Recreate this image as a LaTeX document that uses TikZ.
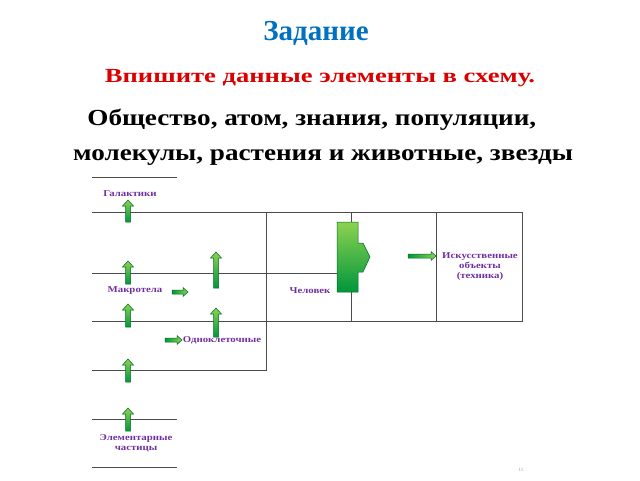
\documentclass[tikz,border=0pt]{standalone}
\usepackage{fontspec}
\setmainfont{Liberation Serif}
\definecolor{titleblue}{RGB}{0,112,192}
\definecolor{labviolet}{RGB}{112,48,160}
\definecolor{arrdark}{RGB}{0,150,60}
\definecolor{arrlight}{RGB}{140,210,80}
\tikzset{
  line/.style={draw=black!70,line width=0.9pt},
  lab/.style={font=\bfseries\fontsize{9}{10}\selectfont,text=labviolet,align=center,inner sep=1pt,xscale=1.2},
  garr/.style={draw=arrdark!70!black,line width=0.5pt,top color=arrlight,bottom color=arrdark},
  harr/.style={draw=arrdark!70!black,line width=0.5pt,left color=arrdark,right color=arrlight}
}
% up arrow: x, y bottom, y top
\newcommand\uparr[3]{\path[garr] (#1-2.5,#2) -- (#1-2.5,#3+6) -- (#1-5.5,#3+6) -- (#1,#3)
  -- (#1+5.5,#3+6) -- (#1+2.5,#3+6) -- (#1+2.5,#2) -- cycle;}
% right arrow: x left, x right, y
\newcommand\rtarr[3]{\path[harr]
  (#1,#3-2) -- (#2-5,#3-2) -- (#2-5,#3-4.5) -- (#2,#3) -- (#2-5,#3+4.5) -- (#2-5,#3+2) -- (#1,#3+2) -- cycle;}
\begin{document}
\begin{tikzpicture}[x=1pt,y=-1pt]
    \useasboundingbox (0,0) rectangle (640,480);
    % Heading
    \node[font=\bfseries\fontsize{29}{30}\selectfont,text=titleblue] (title) at (316,33) {Задание};
    \node[font=\bfseries\fontsize{20}{22}\selectfont,text=red!85!black,xscale=1.33] (task) at (320,78) {Впишите данные элементы в схему.};
    \node[align=left,font=\bfseries\fontsize{23}{35}\selectfont,xscale=1.18,anchor=west,inner sep=0pt] (words) at (73,137) {%
      \hspace*{12pt}Общество, атом, знания, популяции,\\
      молекулы, растения и животные, звезды};
    % Frame lines
    \draw[line] (92,177) -- (177,177);
    \draw[line] (92,212) -- (522,212) -- (522,321) -- (92,321);
    \draw[line] (92,273) -- (337,273);
    \draw[line] (92,370) -- (266,370) -- (266,212);
    \draw[line] (92,419) -- (177,419);
    \draw[line] (92,467) -- (177,467);
    \draw[line] (351,212) -- (351,223);
    \draw[line] (351,292) -- (351,321);
    \draw[line] (436,212) -- (436,321);
    % Labels
    \node[lab] (galax) at (130,194) {Галактики};
    \node[lab] (macro) at (135,291) {Макротела};
    \node[lab] (human) at (310,291) {Человек};
    \node[lab] (cells) at (222,340) {Одноклеточные};
    \node[lab] (tech) at (480,267) {Искусственные\\объекты\\(техника)};
    \node[lab] (elem) at (136,443) {Элементарные\\частицы};
    \node[font=\tiny,text=black!40] (page) at (521,470) {11};
    % Green arrows
    \uparr{128}{222}{200}
    \uparr{128}{284}{261}
    \uparr{128}{327}{304}
    \uparr{128}{382}{359}
    \uparr{128}{431}{408}
    \uparr{216}{288}{252}
    \uparr{216}{337}{308}
    \rtarr{172}{188}{292}
    \rtarr{165}{182}{340}
    \rtarr{408}{436}{256}
    % Big arrow
    \path[garr] (337,222) -- (358,222) -- (358,243) -- (363,243) -- (370,257) -- (363,272)
      -- (358,272) -- (358,292) -- (337,292) -- cycle;
\end{tikzpicture}
\end{document}
